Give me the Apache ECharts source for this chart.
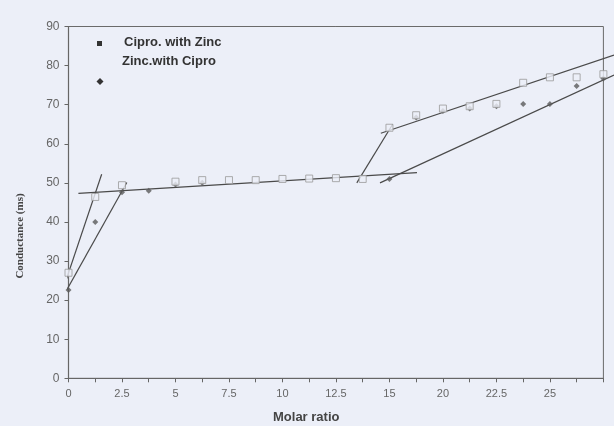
<!DOCTYPE html>
<html><head><meta charset="utf-8">
<script src="https://cdn.jsdelivr.net/npm/echarts@6/dist/echarts.min.js"></script>
<style>html,body{margin:0;padding:0;background:#eceff8;}#c{width:614px;height:426px;}</style>
</head><body><div id="c"></div>
<script>
// x positions are category slots (0..20); labels on every second slot
const tickLabels = ['0','2.5','5','7.5','10','12.5','15','20','22.5','25'];
const slots = [0,1,2,3,4,5,6,7,8,9,10,11,12,13,14,15,16,17,18,19,20];
const ciproWithZinc = [27.0,46.4,49.4,null,50.3,50.7,50.7,50.7,51.0,51.1,51.2,51.0,64.1,67.3,69.0,69.6,70.2,75.6,77.0,77.0,77.8];
const zincWithCipro = [22.6,40.0,47.6,48.0,49.6,50.0,null,null,null,null,null,null,51.0,66.7,68.4,69.0,69.6,70.2,70.2,74.8,76.7];
// hand-drawn trend lines: [startSlot, startValue, endSlot, endValue]
const lineA = [-0.09,25.1,1.24,52.2];
const lineB = [-0.09,22.3,2.18,50.1];
const lineC = [0.37,47.3,13.03,52.6];
const lineD = [10.78,50.0,12.12,65.0];
const lineE = [11.68,62.7,20.4,82.7];
const lineF = [11.65,50.0,20.4,77.6];

const pairs = (ys) => slots.map((x,i)=> ys[i]==null ? null : [x, ys[i]]).filter(p=>p);
const seg = (l, idx) => ({type:'line', data:[[l[0],l[1]],[l[2],l[3]]], symbol:'none', clip:false, silent:true,
  xAxisIndex:idx, yAxisIndex:idx, lineStyle:{color:'#4a4a4a', width:1.2}, z:3});

const chart = echarts.init(document.getElementById('c'));
chart.setOption({
  backgroundColor:'#eceff8',
  animation:false,
  grid:[
    {left:68.5, right:10.6, top:26.5, bottom:47.7, show:true, borderColor:'#6a6a6a', borderWidth:1},
    {left:68.5, right:0, top:26.5, bottom:47.7, show:false}
  ],
  xAxis:[
    {type:'value', gridIndex:0, min:0, max:20, interval:1,
      axisLine:{lineStyle:{color:'#666', width:1.2}},
      axisTick:{show:true, length:4, lineStyle:{color:'#666'}},
      splitLine:{show:false},
      axisLabel:{color:'#666', fontFamily:'Liberation Sans, Arial', fontSize:11, margin:10,
        formatter:(v)=> (v%2===0 && tickLabels[v/2]!==undefined) ? tickLabels[v/2] : ''}},
    {type:'value', gridIndex:1, min:0, max:20.4, show:false}
  ],
  yAxis:[
    {type:'value', gridIndex:0, min:0, max:90, interval:10,
      axisLine:{show:true, lineStyle:{color:'#666', width:1.2}},
      axisTick:{show:true, length:4, lineStyle:{color:'#666'}},
      splitLine:{show:false},
      axisLabel:{color:'#666', fontFamily:'Liberation Sans, Arial', fontSize:12, margin:9}},
    {type:'value', gridIndex:1, min:0, max:90, show:false}
  ],
  series:[
    seg(lineA,0), seg(lineB,0), seg(lineC,0), seg(lineD,0), seg(lineE,1), seg(lineF,1),
    {name:'Zinc.with Cipro', type:'scatter', data:pairs(zincWithCipro), symbol:'diamond', symbolSize:6,
      itemStyle:{color:'#5a5a5a'}, z:4},
    {name:'Cipro. with Zinc', type:'scatter', data:pairs(ciproWithZinc), symbol:'rect', symbolSize:7,
      itemStyle:{color:'#eceff8', borderColor:'#9a9a9a', borderWidth:1}, z:5}
  ],
  graphic:[
    {type:'rect', left:97, top:41, shape:{width:5,height:5}, style:{fill:'#333'}},
    {type:'text', x:124, y:42, style:{text:'Cipro. with Zinc', font:'bold 13px "Liberation Sans", Arial', fill:'#333', verticalAlign:'middle'}},
    {type:'text', x:122, y:61, style:{text:'Zinc.with Cipro', font:'bold 13px "Liberation Sans", Arial', fill:'#333', verticalAlign:'middle'}},
    {type:'polygon', shape:{points:[[100,78],[103.5,81.5],[100,85],[96.5,81.5]]}, style:{fill:'#333'}},
    {type:'text', x:20, y:236, rotation:Math.PI/2, style:{text:'Conductance (ms)', font:'bold 11px "Liberation Serif", "Times New Roman", serif', fill:'#444', align:'center', verticalAlign:'middle'}},
    {type:'text', x:273, y:417, style:{text:'Molar ratio', font:'bold 13px "Liberation Sans", Arial', fill:'#444', verticalAlign:'middle'}}
  ]
});
</script></body></html>
